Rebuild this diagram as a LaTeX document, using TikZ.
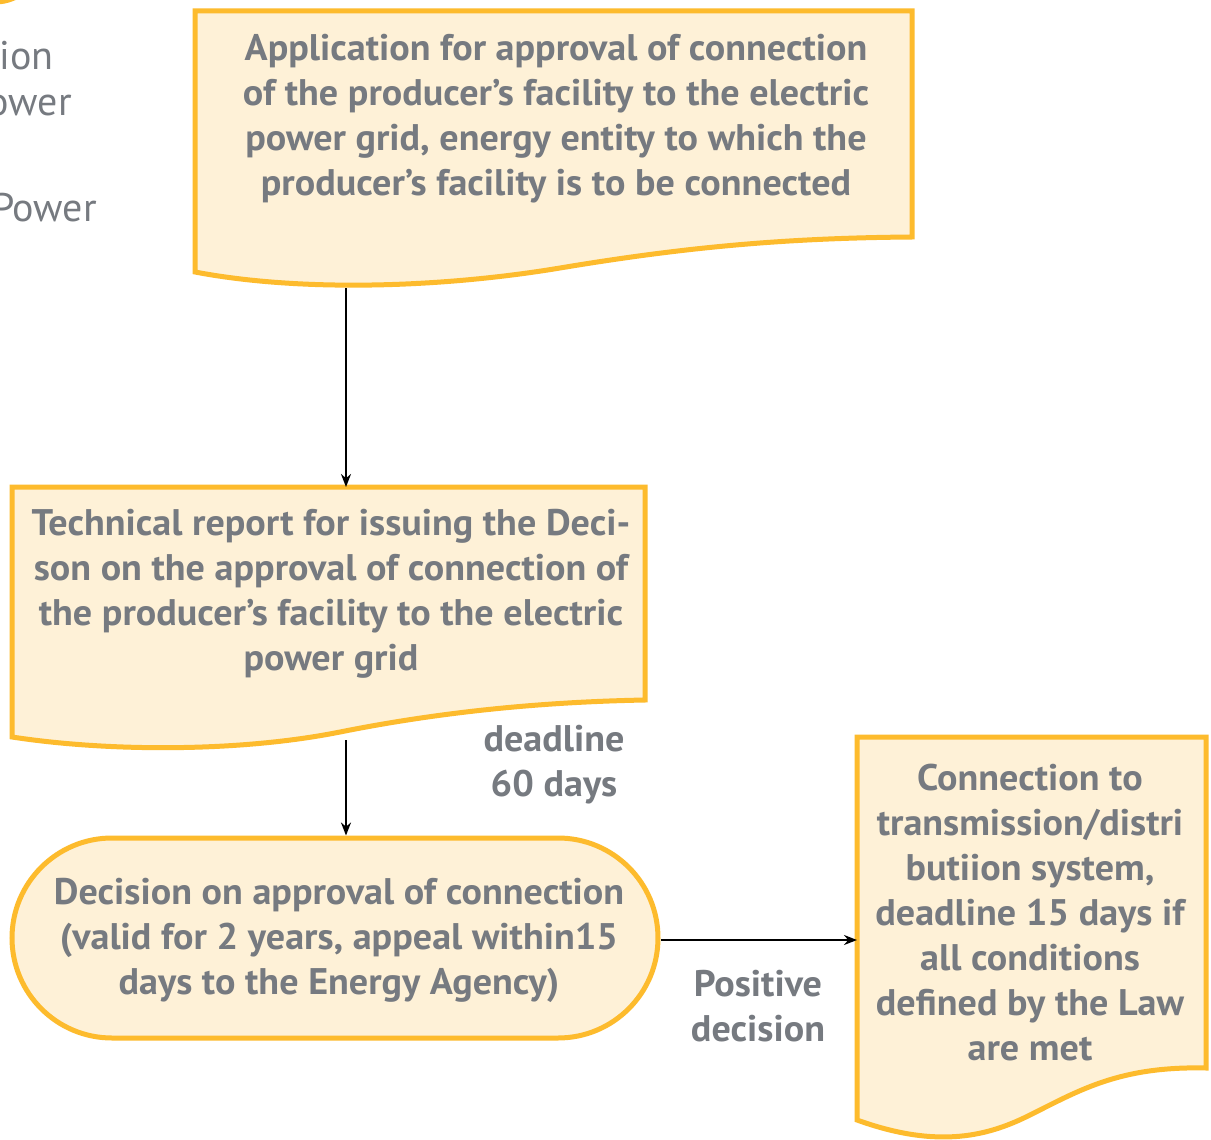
\documentclass[tikz,border=0pt]{standalone}
\usepackage{fontspec}
\setmainfont{PT Sans}[BoldFeatures={FakeStretch=1.03}]
\usetikzlibrary{arrows.meta}
\definecolor{fillY}{HTML}{FEF1D7}
\definecolor{lineY}{HTML}{FDBB2D}
\definecolor{txtG}{HTML}{767A80}
\begin{document}
\begin{tikzpicture}[x=1pt,y=-1pt,
  shapeline/.style={draw=lineY, fill=fillY, line width=5pt, line join=miter},
  lbl/.style={text=txtG, font=\fontsize{37}{45}\selectfont\bfseries, align=center, inner sep=0pt},
  side/.style={text=txtG, font=\fontsize{40}{45}\selectfont, inner sep=0pt, anchor=east},
  conn/.style={draw=black, line width=2pt, -{Stealth[length=13pt,width=10pt]}},
]
\useasboundingbox (0,0) rectangle (1211,1140);
\fill[white] (0,0) rectangle (1211,1140);

% partial items at top-left
\draw[shapeline] (-5,-45) circle[radius=47];
\node[side] (s1) at (54,56) {ion};
\node[side] (s2) at (72,106) {ower};
\node[side] (s3) at (97,208) {Power};

% box 1
\draw[shapeline] (195,11) -- (912,11) -- (912,237)
  .. controls (780,238) and (680,248) .. (560,268)
  .. controls (440,288) and (300,292) .. (195,272) -- cycle;
\coordinate (b1s) at (346,288);
\node[lbl] (t1) at (556,119) {Application for approval of connection\\of the producer’s facility to the electric\\power grid, energy entity to which the\\producer’s facility is to be connected};

% box 2
\draw[shapeline] (12,487) -- (645,487) -- (645,700)
  .. controls (540,702) and (440,712) .. (340,732)
  .. controls (240,752) and (110,752) .. (12,737) -- cycle;
\coordinate (b2n) at (346,487);
\coordinate (b2s) at (346,740);
\node[lbl] (t2) at (331,594) {Technical report for issuing the Deci-\\son on the approval of connection of\\the producer’s facility to the electric\\power grid};

% box 3
\node[shapeline, rectangle, rounded corners=100pt, minimum width=646pt, minimum height=200pt] (b3) at (335,938) {};
\node[lbl] (t3) at (339,940) {Decision on approval of connection\\(valid for 2 years, appeal within15\\days to the Energy Agency)};

% box 4
\draw[shapeline] (857,737) -- (1206,737) -- (1206,1068)
  .. controls (1120,1066) and (1080,1090) .. (1030,1115)
  .. controls (990,1135) and (940,1150) .. (857,1120) -- cycle;
\coordinate (b4w) at (857,940);
\node[lbl] (t4) at (1030,913) {Connection to\\transmission/distri\\butiion system,\\deadline 15 days if\\all conditions\\defined by the Law\\are met};

% labels
\node[lbl] (l1) at (554,765) {deadline\\60 days};
\node[lbl] (l2) at (758,1006) {Positive\\decision};

% connectors
\draw[conn] (b1s) -- (b2n);
\draw[conn] (b2s) -- (b2s |- b3.north);
\draw[conn] (b3.east |- b4w) -- (b4w);
\end{tikzpicture}
\end{document}
